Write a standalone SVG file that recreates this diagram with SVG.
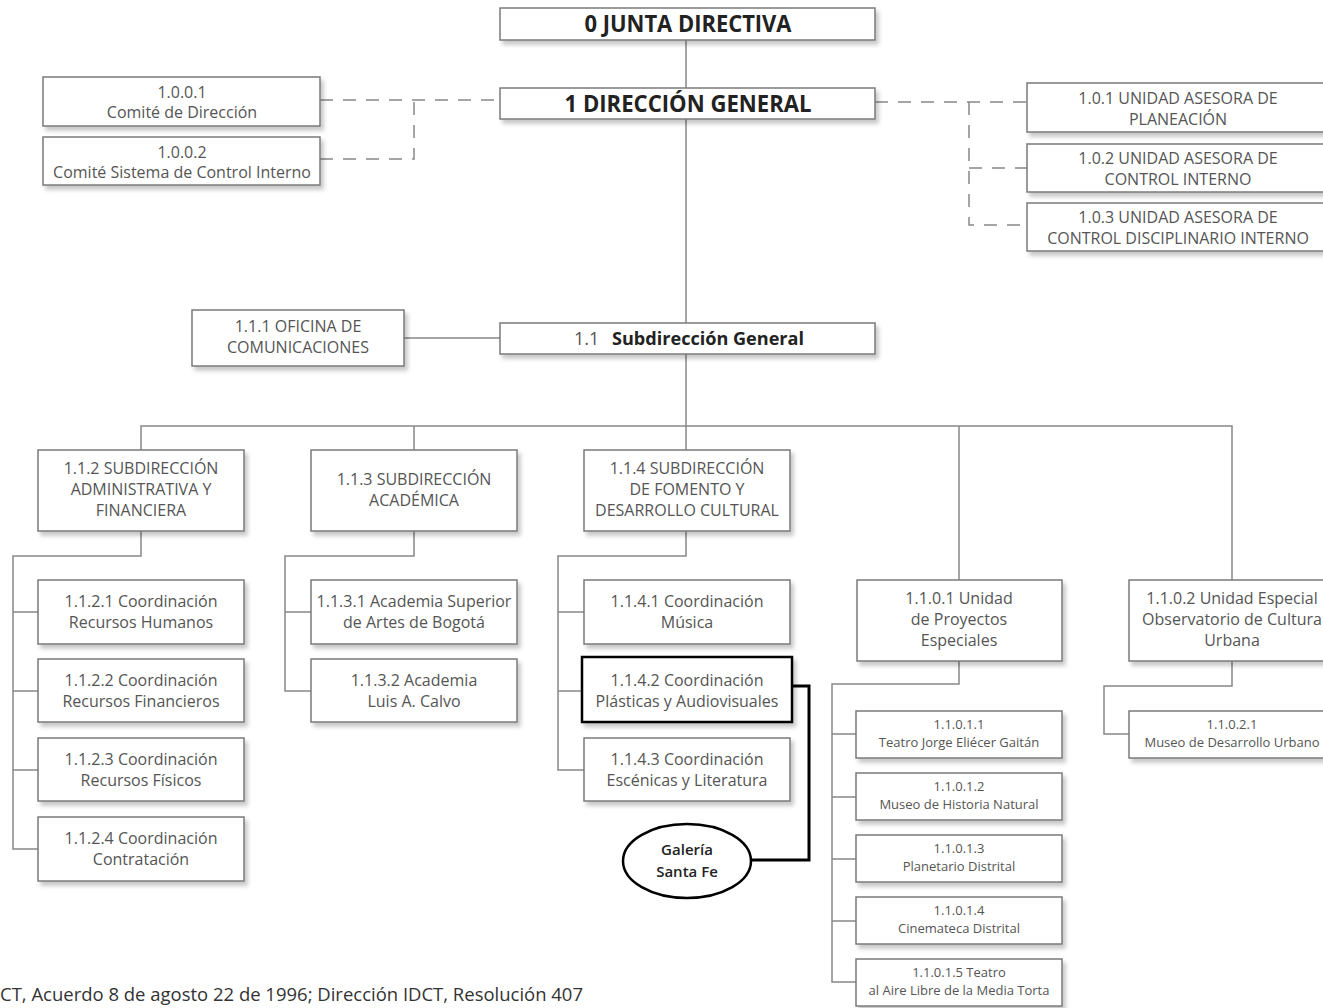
<svg xmlns="http://www.w3.org/2000/svg" width="1323" height="1008" viewBox="0 0 1323 1008">
<style>
.b{fill:#fff;stroke:#7a7a7a;stroke-width:1.5;filter:url(#sh)}
.t{font-family:"Open Sans","Noto Sans",sans-serif;font-size:16px;fill:#555;text-anchor:middle}
.s{font-size:13px}
.h{font-weight:bold;fill:#222}
.c{fill:none;stroke:#888;stroke-width:1.5}
.d{stroke-dasharray:13 10}
.k{fill:none;stroke:#000;stroke-width:3}
</style>
<defs>
<filter id="sh" x="-10%" y="-20%" width="130%" height="160%">
<feDropShadow dx="3" dy="4" stdDeviation="2" flood-color="#000" flood-opacity="0.22"/>
</filter>
</defs>
<rect width="1323" height="1008" fill="#fff"/>
<g id="connectors">
<path class="c" d="M686,40V88M686,119V323M404,338H500M686,354V426"/>
<path class="c" d="M141,450V426H1232V580M414,426V450M686,426V450M959,426V580"/>
<path class="c" d="M141,531V556H13V849H38M13,612H38M13,691H38M13,770H38"/>
<path class="c" d="M414,531V556H285V691H311M285,612H311"/>
<path class="c" d="M686,531V556H558V770H584M558,612H584M558,691H582"/>
<path class="c" d="M959,661V684H832V982H856M832,734H856M832,797H856M832,859H856M832,921H856"/>
<path class="c" d="M1232,661V686H1104V734H1129"/>
<path class="c d" d="M320,100H500M320,159H414V100"/>
<path class="c d" d="M875,102H1027M969,102V225H1027M969,168H1027"/>
<path class="k" d="M792,686H809V860H751"/>
</g>
<g id="n0"><rect class="b" x="500" y="8" width="375" height="32"/><text class="t h" x="688" y="32" style="font-size:24px" textLength="207" lengthAdjust="spacingAndGlyphs">0 JUNTA DIRECTIVA</text></g>
<g id="n1"><rect class="b" x="500" y="88" width="375" height="31"/><text class="t h" x="688" y="112" style="font-size:24px" textLength="247" lengthAdjust="spacingAndGlyphs">1 DIRECCIÓN GENERAL</text></g>
<g id="n1001"><rect class="b" x="43" y="77" width="277" height="49"/><text class="t" x="182" y="98">1.0.0.1</text><text class="t" x="182" y="118">Comité de Dirección</text></g>
<g id="n1002"><rect class="b" x="43" y="137" width="277" height="48"/><text class="t" x="182" y="158">1.0.0.2</text><text class="t" x="182" y="178">Comité Sistema de Control Interno</text></g>
<g id="n101"><rect class="b" x="1027" y="83" width="300" height="49"/><text class="t" x="1178" y="104">1.0.1 UNIDAD ASESORA DE</text><text class="t" x="1178" y="125">PLANEACIÓN</text></g>
<g id="n102"><rect class="b" x="1027" y="144" width="300" height="48"/><text class="t" x="1178" y="164">1.0.2  UNIDAD ASESORA DE</text><text class="t" x="1178" y="185">CONTROL INTERNO</text></g>
<g id="n103"><rect class="b" x="1027" y="203" width="300" height="48"/><text class="t" x="1178" y="223">1.0.3 UNIDAD ASESORA DE</text><text class="t" x="1178" y="244">CONTROL DISCIPLINARIO INTERNO</text></g>
<g id="n111"><rect class="b" x="192" y="310" width="212" height="56"/><text class="t" x="298" y="332">1.1.1 OFICINA DE</text><text class="t" x="298" y="353">COMUNICACIONES</text></g>
<g id="n11"><rect class="b" x="500" y="323" width="375" height="31"/><text class="t" x="574" y="345" style="font-size:18px;text-anchor:start">1.1<tspan class="h" x="612" textLength="192" lengthAdjust="spacingAndGlyphs">Subdirección General</tspan></text></g>
<g id="n112"><rect class="b" x="38" y="450" width="206" height="81"/><text class="t" x="141" y="474">1.1.2 SUBDIRECCIÓN</text><text class="t" x="141" y="495">ADMINISTRATIVA Y</text><text class="t" x="141" y="516">FINANCIERA</text></g>
<g id="n113"><rect class="b" x="311" y="450" width="206" height="81"/><text class="t" x="414" y="485">1.1.3 SUBDIRECCIÓN</text><text class="t" x="414" y="506">ACADÉMICA</text></g>
<g id="n114"><rect class="b" x="584" y="450" width="206" height="81"/><text class="t" x="687" y="474">1.1.4  SUBDIRECCIÓN</text><text class="t" x="687" y="495">DE FOMENTO Y</text><text class="t" x="687" y="516">DESARROLLO CULTURAL</text></g>
<g id="n1101"><rect class="b" x="857" y="580" width="205" height="81"/><text class="t" x="959" y="604">1.1.0.1 Unidad</text><text class="t" x="959" y="625">de Proyectos</text><text class="t" x="959" y="646">Especiales</text></g>
<g id="n1102"><rect class="b" x="1129" y="580" width="206" height="81"/><text class="t" x="1232" y="604">1.1.0.2 Unidad Especial</text><text class="t" x="1232" y="625">Observatorio de Cultura</text><text class="t" x="1232" y="646">Urbana</text></g>
<g id="n1121"><rect class="b" x="38" y="580" width="206" height="64"/><text class="t" x="141" y="607">1.1.2.1 Coordinación</text><text class="t" x="141" y="628">Recursos Humanos</text></g>
<g id="n1122"><rect class="b" x="38" y="659" width="206" height="63"/><text class="t" x="141" y="686">1.1.2.2 Coordinación</text><text class="t" x="141" y="707">Recursos Financieros</text></g>
<g id="n1123"><rect class="b" x="38" y="738" width="206" height="63"/><text class="t" x="141" y="765">1.1.2.3 Coordinación</text><text class="t" x="141" y="786">Recursos Físicos</text></g>
<g id="n1124"><rect class="b" x="38" y="817" width="206" height="64"/><text class="t" x="141" y="844">1.1.2.4 Coordinación</text><text class="t" x="141" y="865">Contratación</text></g>
<g id="n1131"><rect class="b" x="311" y="580" width="206" height="64"/><text class="t" x="414" y="607">1.1.3.1 Academia Superior</text><text class="t" x="414" y="628">de Artes de Bogotá</text></g>
<g id="n1132"><rect class="b" x="311" y="659" width="206" height="63"/><text class="t" x="414" y="686">1.1.3.2 Academia</text><text class="t" x="414" y="707">Luis A. Calvo</text></g>
<g id="n1141"><rect class="b" x="584" y="580" width="206" height="64"/><text class="t" x="687" y="607">1.1.4.1 Coordinación</text><text class="t" x="687" y="628">Música</text></g>
<g id="n1142"><rect class="b" x="582" y="657" width="210" height="65" style="stroke:#000;stroke-width:2.5"/><text class="t" x="687" y="686">1.1.4.2 Coordinación</text><text class="t" x="687" y="707">Plásticas y Audiovisuales</text></g>
<g id="n1143"><rect class="b" x="584" y="738" width="206" height="63"/><text class="t" x="687" y="765">1.1.4.3 Coordinación</text><text class="t" x="687" y="786">Escénicas y Literatura</text></g>
<g id="galeria"><ellipse cx="687" cy="861" rx="64" ry="37" fill="#fff" stroke="#000" stroke-width="2.5"/><text class="t" x="687" y="855" style="font-size:15px;fill:#222;font-weight:600">Galería</text><text class="t" x="687" y="877" style="font-size:15px;fill:#222;font-weight:600">Santa Fe</text></g>
<g id="n11011"><rect class="b" x="856" y="711" width="206" height="47"/><text class="t s" x="959" y="729">1.1.0.1.1</text><text class="t s" x="959" y="747">Teatro Jorge Eliécer Gaitán</text></g>
<g id="n11012"><rect class="b" x="856" y="773" width="206" height="47"/><text class="t s" x="959" y="791">1.1.0.1.2</text><text class="t s" x="959" y="809">Museo de Historia Natural</text></g>
<g id="n11013"><rect class="b" x="856" y="835" width="206" height="47"/><text class="t s" x="959" y="853">1.1.0.1.3</text><text class="t s" x="959" y="871">Planetario Distrital</text></g>
<g id="n11014"><rect class="b" x="856" y="897" width="206" height="47"/><text class="t s" x="959" y="915">1.1.0.1.4</text><text class="t s" x="959" y="933">Cinemateca Distrital</text></g>
<g id="n11015"><rect class="b" x="856" y="959" width="206" height="47"/><text class="t s" x="959" y="977">1.1.0.1.5 Teatro</text><text class="t s" x="959" y="995">al Aire Libre de la Media Torta</text></g>
<g id="n11021"><rect class="b" x="1129" y="711" width="206" height="47"/><text class="t s" x="1232" y="729">1.1.0.2.1</text><text class="t s" x="1232" y="747">Museo de Desarrollo Urbano</text></g>
<text x="0" y="1001" font-family="Open Sans, Noto Sans, sans-serif" font-size="18" fill="#333" textLength="583" lengthAdjust="spacingAndGlyphs">CT, Acuerdo 8 de agosto 22 de 1996; Dirección IDCT, Resolución 407</text>
</svg>
